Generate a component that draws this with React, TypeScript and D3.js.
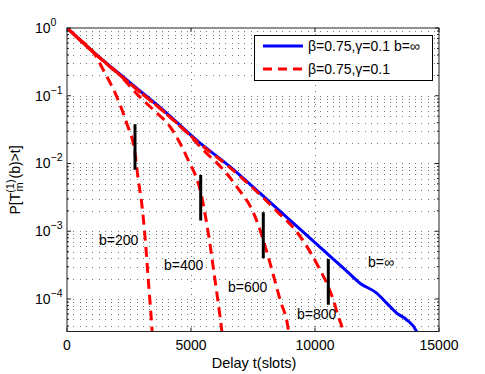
import React from "react";
import * as d3 from "d3";

// Blue curve: b = infinity
const tInf = [0, 1129, 2540, 3951, 5294, 6572, 7782, 9125, 9798, 10201, 10737, 11278, 11814, 12487, 12890, 13294, 13697, 14100, 14150];
const pInf = [1, 0.4236, 0.156, 0.0582, 0.021, 0.009, 0.00365, 0.00132, 7.94e-4, 5.85e-4, 3.89e-4, 2.58e-4, 1.71e-4, 1.22e-4, 8.7e-5, 6.19e-5, 4.93e-5, 3.31e-5, 3.0e-5];

// Red dashed curves: finite buffers
const t200 = [0, 500, 1060, 1464, 2004, 2407, 2742, 2875, 3012, 3145, 3278, 3415, 3445];
const p200 = [1, 0.684, 0.442, 0.24, 0.097, 0.0393, 0.0142, 0.00573, 0.00259, 8.36e-4, 1.92e-4, 4.17e-5, 2.8e-5];
const t400 = [0, 1129, 2000, 2943, 3550, 4153, 4826, 5431, 5697, 5967, 6238, 6270];
const p400 = [1, 0.417, 0.224, 0.0955, 0.0589, 0.035, 0.0125, 0.00325, 9.38e-4, 1.92e-4, 3.52e-5, 2.8e-5];
const t600 = [0, 1129, 2540, 3951, 4800, 5496, 6371, 6842, 7580, 7915, 8300, 8590, 8923, 8960];
const p600 = [1, 0.417, 0.151, 0.0562, 0.0295, 0.0158, 0.00759, 0.00457, 0.00166, 7.41e-4, 2.4e-4, 9.77e-5, 3.52e-5, 2.8e-5];
const t800 = [0, 1129, 2540, 3951, 5294, 6572, 7782, 8500, 9200, 9798, 10201, 10471, 10737, 10939, 11128, 11160];
const p800 = [1, 0.417, 0.151, 0.0562, 0.0204, 0.00871, 0.00347, 0.00191, 0.00105, 5.01e-4, 2.7e-4, 1.72e-4, 9.73e-5, 5.52e-5, 3.28e-5, 2.8e-5];

// Black bars
const barT = [2742, 5391, 7915, 10536];
const barTop = [0.038, 0.00679, 0.00191, 3.89e-4];
const barBottom = [0.0081, 0.00144, 3.98e-4, 8.22e-5];

// Annotations
const annText = ["b=200", "b=400", "b=600", "b=800", "b=\u221e"];
const annT = [1290, 3911, 6492, 9274, 12137];
const annP = [7.46e-4, 3.19e-4, 1.48e-4, 6.03e-5, 3.48e-4];

const xTicks = [0, 5000, 10000, 15000];
const yExps = [0, -1, -2, -3, -4];
const legendLabels = ["\u03b2=0.75,\u03b3=0.1 b=\u221e", "\u03b2=0.75,\u03b3=0.1"];

const W = 485, H = 374;
const L = 67, R = 439, T = 28, B = 331.5;
const FONT = "'Liberation Sans', Arial, Helvetica, sans-serif";

export default function App() {
  const x = d3.scaleLinear().domain([0, 15000]).range([L, R]);
  const y = d3.scaleLog().domain([Math.pow(10, -4.48), 1]).range([B, T]);

  const line = d3
    .line<[number, number]>()
    .x((d) => x(d[0]))
    .y((d) => y(d[1]))
    .curve(d3.curveMonotoneX);

  const zip = (ts: number[], ps: number[]) => ts.map((t, i) => [t, ps[i]] as [number, number]);
  const reds = [zip(t200, p200), zip(t400, p400), zip(t600, p600), zip(t800, p800)];

  const minor: number[] = [];
  for (let k = -5; k <= -1; k++) {
    for (let m = 2; m <= 9; m++) {
      const v = m * Math.pow(10, k);
      if (v >= Math.pow(10, -4.48) && v < 1) minor.push(v);
    }
  }
  const major = yExps.map((e) => Math.pow(10, e));

  return (
    <svg width={W} height={H} style={{ position: "absolute", left: 0, top: 0, background: "#fff" }} fontFamily={FONT}>
      <defs>
        <clipPath id="plotclip">
          <rect x={L} y={T} width={R - L} height={B - T} />
        </clipPath>
      </defs>
      <rect x={0} y={0} width={W} height={H} fill="#fff" />
      {/* grid */}
      <g stroke="#777" strokeWidth={1} strokeDasharray="1,5.33" shapeRendering="crispEdges">
        {major.concat(minor).filter((v) => v < 1).map((v, i) => (
          <line key={"gy" + i} x1={L} x2={R} y1={Math.round(y(v)) + 0.5} y2={Math.round(y(v)) + 0.5} />
        ))}
        {xTicks.filter((t) => t > 0 && t < 15000).map((t) => (
          <line key={"gx" + t} x1={Math.round(x(t)) + 0.5} x2={Math.round(x(t)) + 0.5} y1={T} y2={B} />
        ))}
      </g>
      {/* curves */}
      <g clipPath="url(#plotclip)" fill="none">
        <path d={line(zip(tInf, pInf)) || ""} stroke="#0000ff" strokeWidth={3} strokeLinejoin="round" />
        {reds.map((r, i) => (
          <path key={i} d={line(r) || ""} stroke="#ff0000" strokeWidth={3} strokeDasharray="10,6" strokeDashoffset={i * 4} />
        ))}
      </g>
      {/* bars */}
      <g stroke="#000" strokeWidth={3}>
        {barT.map((t, i) => (
          <line key={i} x1={x(t)} x2={x(t)} y1={y(barTop[i])} y2={y(barBottom[i])} />
        ))}
      </g>
      {/* annotations */}
      <g fontSize={14} fill="#000">
        {annText.map((s, i) => (
          <text key={i} x={x(annT[i])} y={y(annP[i])} dy="0.35em">
            {s}
          </text>
        ))}
      </g>
      {/* axes frame */}
      <rect x={L} y={T} width={R - L} height={B - T} fill="none" stroke="#222" strokeWidth={1} />
      {/* ticks */}
      <g stroke="#222" strokeWidth={1}>
        {xTicks.map((t) => (
          <g key={"xt" + t}>
            <line x1={x(t)} x2={x(t)} y1={B} y2={B - 4} />
            <line x1={x(t)} x2={x(t)} y1={T} y2={T + 4} />
          </g>
        ))}
        {major.map((v, i) => (
          <g key={"yt" + i}>
            <line x1={L} x2={L + 4} y1={y(v)} y2={y(v)} />
            <line x1={R} x2={R - 4} y1={y(v)} y2={y(v)} />
          </g>
        ))}
        {minor.map((v, i) => (
          <g key={"ym" + i}>
            <line x1={L} x2={L + 2} y1={y(v)} y2={y(v)} />
            <line x1={R} x2={R - 2} y1={y(v)} y2={y(v)} />
          </g>
        ))}
      </g>
      {/* x tick labels */}
      <g fontSize={14} fill="#000" textAnchor="middle">
        {xTicks.map((t) => (
          <text key={t} x={x(t)} y={350}>
            {t}
          </text>
        ))}
      </g>
      {/* y tick labels */}
      <g fontSize={14} fill="#000">
        {yExps.map((e) => (
          <text key={e} x={35} y={y(Math.pow(10, e)) + 5}>
            10
            <tspan fontSize={10.5} dy={-7}>
              {e === 0 ? "0" : "\u2212" + String(-e)}
            </tspan>
          </text>
        ))}
      </g>
      {/* axis labels */}
      <text x={(L + R) / 2 + 1} y={368} fontSize={14.5} textAnchor="middle" fill="#000">
        Delay t(slots)
      </text>
      <text transform="translate(20,180) rotate(-90)" fontSize={14} textAnchor="middle" fill="#000">
        P[T
        <tspan fontSize={11} dy={-6}>(1)</tspan>
        <tspan fontSize={11} dx={-12.2} dy={9}>m</tspan>
        <tspan dx={3.9} dy={-3}>(b)&gt;t]</tspan>
      </text>
      {/* legend */}
      <g>
        <rect x={254.5} y={35.5} width={178} height={45} fill="#fff" stroke="#000" strokeWidth={1} />
        <line x1={263} x2={303} y1={46} y2={46} stroke="#0000ff" strokeWidth={3} />
        <line x1={263} x2={303} y1={69} y2={69} stroke="#ff0000" strokeWidth={3} strokeDasharray="9,6" />
        <text x={308} y={46} dy="0.35em" fontSize={14} fill="#000">{legendLabels[0]}</text>
        <text x={308} y={69} dy="0.35em" fontSize={14} fill="#000">{legendLabels[1]}</text>
      </g>
    </svg>
  );
}
